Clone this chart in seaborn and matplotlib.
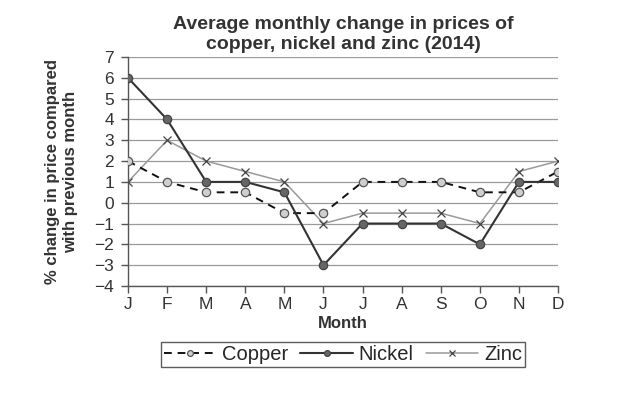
import matplotlib
matplotlib.use("Agg")
import matplotlib.pyplot as plt
import seaborn as sns
import pandas as pd

months = ["J", "F", "M", "A", "M", "J", "J", "A", "S", "O", "N", "D"]
copper = [2, 1, 0.5, 0.5, -0.5, -0.5, 1, 1, 1, 0.5, 0.5, 1.5]
nickel = [6, 4, 1, 1, 0.5, -3, -1, -1, -1, -2, 1, 1]
zinc = [1, 3, 2, 1.5, 1, -1, -0.5, -0.5, -0.5, -1, 1.5, 2]
yticks = list(range(-4, 8))

sns.set_theme(style="white")
plt.rcParams['font.family'] = ['Liberation Sans', 'DejaVu Sans']

idx = list(range(len(months)))
df = pd.DataFrame({"idx": idx, "Copper": copper, "Nickel": nickel, "Zinc": zinc})

fig = plt.figure(figsize=(6.4, 4.0), dpi=100)
ax = fig.add_axes([0.2, 0.285, 0.672, 0.5725])

for y in yticks:
    ax.axhline(y, color="#9a9a9a", lw=0.9, zorder=0)

sns.lineplot(data=df, x="idx", y="Copper", ax=ax, color="#111111", lw=1.4,
             linestyle=(0, (4, 3)), marker="o", markersize=6,
             markerfacecolor="#cfcfcf", markeredgecolor="#555555",
             markeredgewidth=0.9, label="Copper", zorder=3)
sns.lineplot(data=df, x="idx", y="Nickel", ax=ax, color="#333333", lw=1.5,
             marker="o", markersize=6, markerfacecolor="#666666",
             markeredgecolor="#444444", markeredgewidth=0.9, label="Nickel", zorder=4)
sns.lineplot(data=df, x="idx", y="Zinc", ax=ax, color="#9a9a9a", lw=1.1,
             marker="x", markersize=5.5, markeredgecolor="#444444",
             markeredgewidth=0.9, label="Zinc", zorder=2)

ax.set_xlim(0, 11)
ax.set_ylim(-4, 7)
ax.set_xticks(idx)
ax.set_xticklabels(months, fontsize=12.5)
ax.set_yticks(yticks)
ax.set_yticklabels([str(v).replace("-", "\u2212") for v in yticks], fontsize=12.5)
for s in ["top", "right"]:
    ax.spines[s].set_visible(False)
for s in ["left", "bottom"]:
    ax.spines[s].set_color("#555555")
    ax.spines[s].set_linewidth(1.0)
ax.tick_params(axis="both", which="major", direction="out", length=5, width=1,
               color="#555555", labelcolor="#333333", bottom=True, left=True, pad=3)
ax.tick_params(axis="y", pad=5)

ax.set_xlabel("Month", fontsize=12, fontweight="bold", color="#333333", labelpad=3)
ax.set_ylabel("% change in price compared\nwith previous month", fontsize=12,
              fontweight="bold", color="#333333", labelpad=12, linespacing=1.2)
ax.set_title("Average monthly change in prices of\ncopper, nickel and zinc (2014)",
             fontsize=14, fontweight="bold", color="#333333", pad=6, linespacing=1.2)

leg = ax.legend(loc="upper center", bbox_to_anchor=(0.5, -0.2), ncol=3,
                frameon=True, fancybox=False, fontsize=14.5, handlelength=2.6,
                columnspacing=0.6, handletextpad=0.3, borderpad=0.15,
                markerscale=0.7)
leg.get_frame().set_edgecolor("#333333")
leg.get_frame().set_linewidth(1.0)

fig.savefig("out.png", dpi=100, facecolor="white")
